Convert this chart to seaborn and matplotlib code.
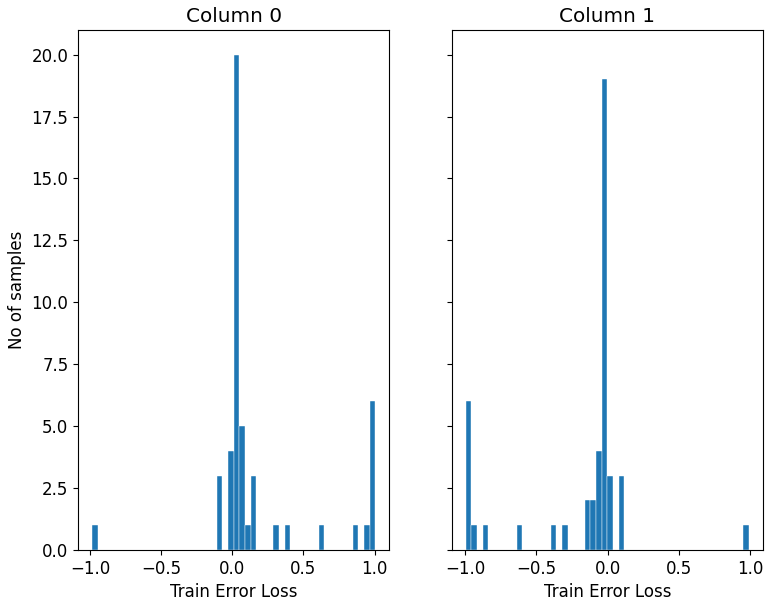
import numpy as np
import pandas as pd
import matplotlib
matplotlib.use("Agg")
import matplotlib.pyplot as plt
import seaborn as sns

# histogram data: 50 bins over [lo, hi], non-empty bins only
n_bins = 50

col0_range = (-0.985, 1.005)
col0_bins = [0, 22, 24, 25, 26, 27, 28, 32, 34, 40, 46, 48, 49]
col0_counts = [1, 3, 4, 20, 5, 1, 3, 1, 1, 1, 1, 1, 6]

col1_range = (-0.995, 0.99)
col1_bins = [0, 1, 3, 9, 15, 17, 21, 22, 23, 24, 25, 27, 49]
col1_counts = [6, 1, 1, 1, 1, 1, 2, 2, 4, 19, 3, 3, 1]

titles = ["Column 0", "Column 1"]
xlabel = "Train Error Loss"
ylabel = "No of samples"

plt.rcParams['font.size'] = 12

fig, axes = plt.subplots(1, 2, figsize=(7.66, 6.09), dpi=100, sharey=True)
fig.subplots_adjust(left=0.102, right=0.996, bottom=0.097, top=0.951, wspace=0.2)

columns = [(col0_range, col0_bins, col0_counts), (col1_range, col1_bins, col1_counts)]
for ax, (rng, idx, counts), title in zip(axes, columns, titles):
    width = (rng[1] - rng[0]) / n_bins
    df = pd.DataFrame({"x": rng[0] + (np.array(idx) + 0.5) * width, "w": counts})
    sns.histplot(data=df, x="x", weights="w", bins=n_bins, binrange=rng, ax=ax,
                 color="#1f77b4", alpha=1, edgecolor="white", linewidth=0.3)
    ax.set_title(title)
    ax.set_xlabel(xlabel)
    ax.set_ylabel("")

axes[0].set_ylabel(ylabel)
axes[0].set_ylim(0, 21)

fig.savefig("out.png", dpi=100)
